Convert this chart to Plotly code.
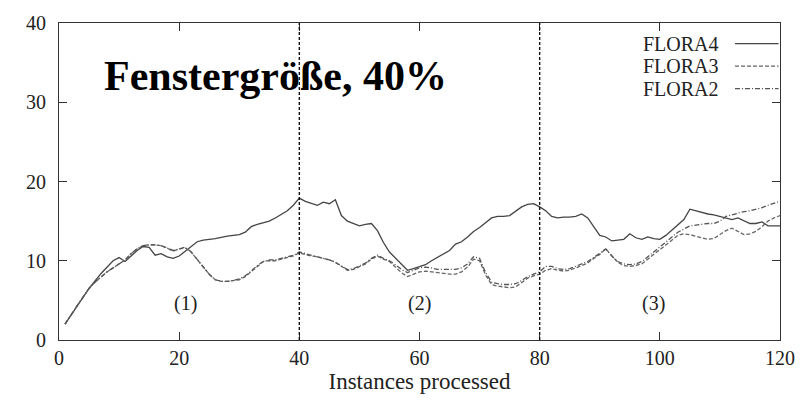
import plotly.graph_objects as go

# ---------------- data ----------------
f4_x = [1, 3, 5, 7, 8, 9, 10, 11, 12, 13, 14, 15, 16, 17, 18, 19, 20, 21, 22, 23, 24, 26, 28, 30,
        31, 32, 33, 34, 35, 36, 37, 38, 39, 40, 41, 42, 43, 44, 45, 46, 47, 48, 49, 50, 51, 52, 53,
        54, 55, 56, 57, 58, 59, 60, 61, 62, 63, 64, 65, 66, 67, 68, 69, 70, 71, 72, 73, 74, 75, 76,
        77, 78, 79, 80, 81, 82, 83, 84, 85, 86, 87, 88, 89, 90, 91, 92, 93, 94, 95, 96, 97, 98, 99,
        100, 101, 102, 103, 104, 105, 106, 107, 108, 109, 110, 111, 112, 113, 114, 115, 116, 117,
        118, 119, 120]
f4_y = [2.0, 4.3, 6.5, 8.4, 9.2, 10.0, 10.4, 9.9, 10.6, 11.3, 11.8, 11.7, 10.7, 10.9, 10.5, 10.3,
        10.6, 11.2, 11.9, 12.4, 12.6, 12.8, 13.1, 13.3, 13.6, 14.3, 14.6, 14.8, 15.0, 15.4, 15.8,
        16.3, 17.0, 17.9, 17.5, 17.2, 17.0, 17.4, 17.2, 17.7, 15.7, 15.0, 14.7, 14.4, 14.6, 14.7,
        13.8, 12.3, 11.1, 10.3, 9.6, 8.8, 9.0, 9.3, 9.5, 10.0, 10.4, 10.8, 11.3, 12.1, 12.4, 13.0,
        13.7, 14.2, 14.8, 15.4, 15.6, 15.6, 15.7, 16.2, 16.8, 17.1, 17.2, 16.8, 16.3, 15.6, 15.4,
        15.5, 15.5, 15.6, 15.9, 15.4, 14.3, 13.2, 13.0, 12.5, 12.6, 12.7, 13.4, 12.9, 12.7, 13.0,
        12.8, 12.7, 13.2, 13.9, 14.6, 15.2, 16.5, 16.3, 16.1, 15.9, 15.8, 15.6, 15.4, 15.2, 15.4,
        15.0, 14.7, 14.7, 14.9, 14.4, 14.4, 14.4]

f3_x = list(range(1, 121))
f3_y = [2.0, 3.2, 4.3, 5.4, 6.5, 7.3, 8.0, 8.6, 9.1, 9.6, 10.1, 10.9, 11.5, 11.9, 12.0, 12.0, 11.9,
        11.6, 11.2, 11.5, 11.6, 11.1, 10.2, 9.2, 8.3, 7.6, 7.4, 7.4, 7.5, 7.6, 8.0, 8.6, 9.3, 9.9,
        10.0, 10.0, 10.2, 10.4, 10.6, 11.0, 10.8, 10.6, 10.5, 10.3, 10.1, 9.8, 9.3, 8.8, 8.9, 9.2,
        9.6, 10.2, 10.6, 10.2, 9.9, 9.2, 8.5, 8.0, 8.3, 8.6, 8.7, 8.6, 8.5, 8.4, 8.3, 8.3, 8.6,
        9.2, 10.2, 10.0, 8.2, 7.0, 6.8, 6.7, 6.6, 6.7, 7.2, 7.8, 8.1, 8.3, 8.8, 9.0, 8.8, 8.7,
        8.8, 9.1, 9.4, 9.7, 10.3, 10.8, 11.5, 10.6, 9.8, 9.4, 9.3, 9.4, 9.6, 10.2, 10.8, 11.4,
        12.0, 12.7, 13.2, 13.4, 13.3, 13.1, 12.9, 12.7, 12.8, 13.3, 13.8, 14.1, 13.7, 13.3, 13.4,
        13.7, 14.3, 15.0, 15.4, 15.7]

f2_x = list(range(1, 121))
f2_y = [2.0, 3.2, 4.3, 5.4, 6.5, 7.3, 8.0, 8.6, 9.1, 9.6, 10.1, 10.9, 11.5, 11.9, 12.0, 12.0, 11.9,
        11.6, 11.3, 11.5, 11.7, 11.1, 10.2, 9.2, 8.3, 7.6, 7.4, 7.4, 7.5, 7.7, 8.1, 8.7, 9.4, 9.9,
        10.1, 10.1, 10.3, 10.5, 10.7, 11.1, 10.9, 10.7, 10.5, 10.3, 10.1, 9.8, 9.3, 8.9, 9.0, 9.3,
        9.7, 10.3, 10.7, 10.3, 10.0, 9.5, 8.9, 8.5, 8.8, 9.1, 9.2, 9.1, 8.9, 8.9, 8.9, 8.9, 9.1,
        9.6, 10.5, 10.3, 8.5, 7.3, 7.1, 7.0, 7.0, 7.1, 7.5, 8.0, 8.3, 8.6, 9.3, 9.3, 9.0, 8.9,
        9.0, 9.3, 9.6, 9.9, 10.4, 10.9, 11.5, 10.6, 9.9, 9.6, 9.5, 9.6, 9.9, 10.5, 11.1, 11.7,
        12.4, 13.0, 13.6, 14.0, 14.4, 14.5, 14.6, 14.7, 14.7, 15.0, 15.6, 15.8, 16.0, 16.2, 16.3,
        16.5, 16.7, 17.0, 17.3, 17.5]

series_names = ["FLORA4", "FLORA3", "FLORA2"]
phase_bounds = [40, 80]
phase_labels = ["(1)", "(2)", "(3)"]
phase_label_x = [21, 60, 99]
phase_label_y = [4.6, 4.6, 4.6]
x_ticks = [0, 20, 40, 60, 80, 100, 120]
y_ticks = [0, 10, 20, 30, 40]
title_text = "Fenstergröße, 40%"
x_title = "Instances processed"

# ---------------- styles ----------------
FONT = "Liberation Serif, Times New Roman, serif"
styles = [
    dict(color="#444444", width=1.3, dash="solid"),
    dict(color="#666666", width=1.3, dash="4px,2px"),
    dict(color="#555555", width=1.3, dash="5px,2px,1px,2px"),
]

fig = go.Figure()
for (xs, ys), name, st in zip([(f4_x, f4_y), (f3_x, f3_y), (f2_x, f2_y)], series_names, styles):
    fig.add_trace(go.Scatter(x=xs, y=ys, mode="lines", name=name, line=st,
                             showlegend=False))

# phase separators
for b in phase_bounds:
    fig.add_shape(type="line", x0=b, x1=b, y0=0, y1=40, xref="x", yref="y",
                  line=dict(color="#111111", width=1.4, dash="3px,2px"))

# phase labels
for lbl, lx, ly in zip(phase_labels, phase_label_x, phase_label_y):
    fig.add_annotation(x=lx, y=ly, text=lbl, showarrow=False,
                       font=dict(family=FONT, size=20, color="#222222"))

# title annotation
fig.add_annotation(x=0.300, y=0.832, xref="paper", yref="paper", text="<b>" + title_text + "</b>",
                   showarrow=False, font=dict(family=FONT, size=42, color="#000000"),
                   xanchor="center", yanchor="middle")

# manual legend (text left, sample right)
leg_y = [0.935, 0.864, 0.793]
for name, st, ly in zip(series_names, styles, leg_y):
    fig.add_annotation(x=0.917, y=ly, xref="paper", yref="paper", text=name, showarrow=False,
                       xanchor="right", yanchor="middle", borderpad=0,
                       font=dict(family=FONT, size=20, color="#222222"))
    fig.add_shape(type="line", x0=0.9376, x1=0.998, y0=ly, y1=ly, xref="paper", yref="paper",
                  line=dict(color=st["color"], width=1.2, dash=st["dash"]))

axis_common = dict(showline=True, linecolor="#333333", linewidth=1.2, mirror="ticks",
                   ticks="inside", ticklen=8, tickwidth=1.2, tickcolor="#333333",
                   showgrid=False, zeroline=False,
                   tickfont=dict(family=FONT, size=20, color="#222222"))

fig.update_xaxes(range=[0, 120], tickvals=x_ticks, ticktext=[str(v) for v in x_ticks],
                 title=dict(text=x_title, font=dict(family=FONT, size=23, color="#222222"),
                            standoff=0),
                 **axis_common)
fig.update_yaxes(range=[0, 40], tickvals=y_ticks, ticktext=[str(v) for v in y_ticks],
                 ticklabelstandoff=8, **axis_common)

fig.update_layout(width=809, height=400, margin=dict(l=59, r=29, t=17, b=60),
                  plot_bgcolor="white", paper_bgcolor="white", showlegend=False)

fig.write_html("out.html")
